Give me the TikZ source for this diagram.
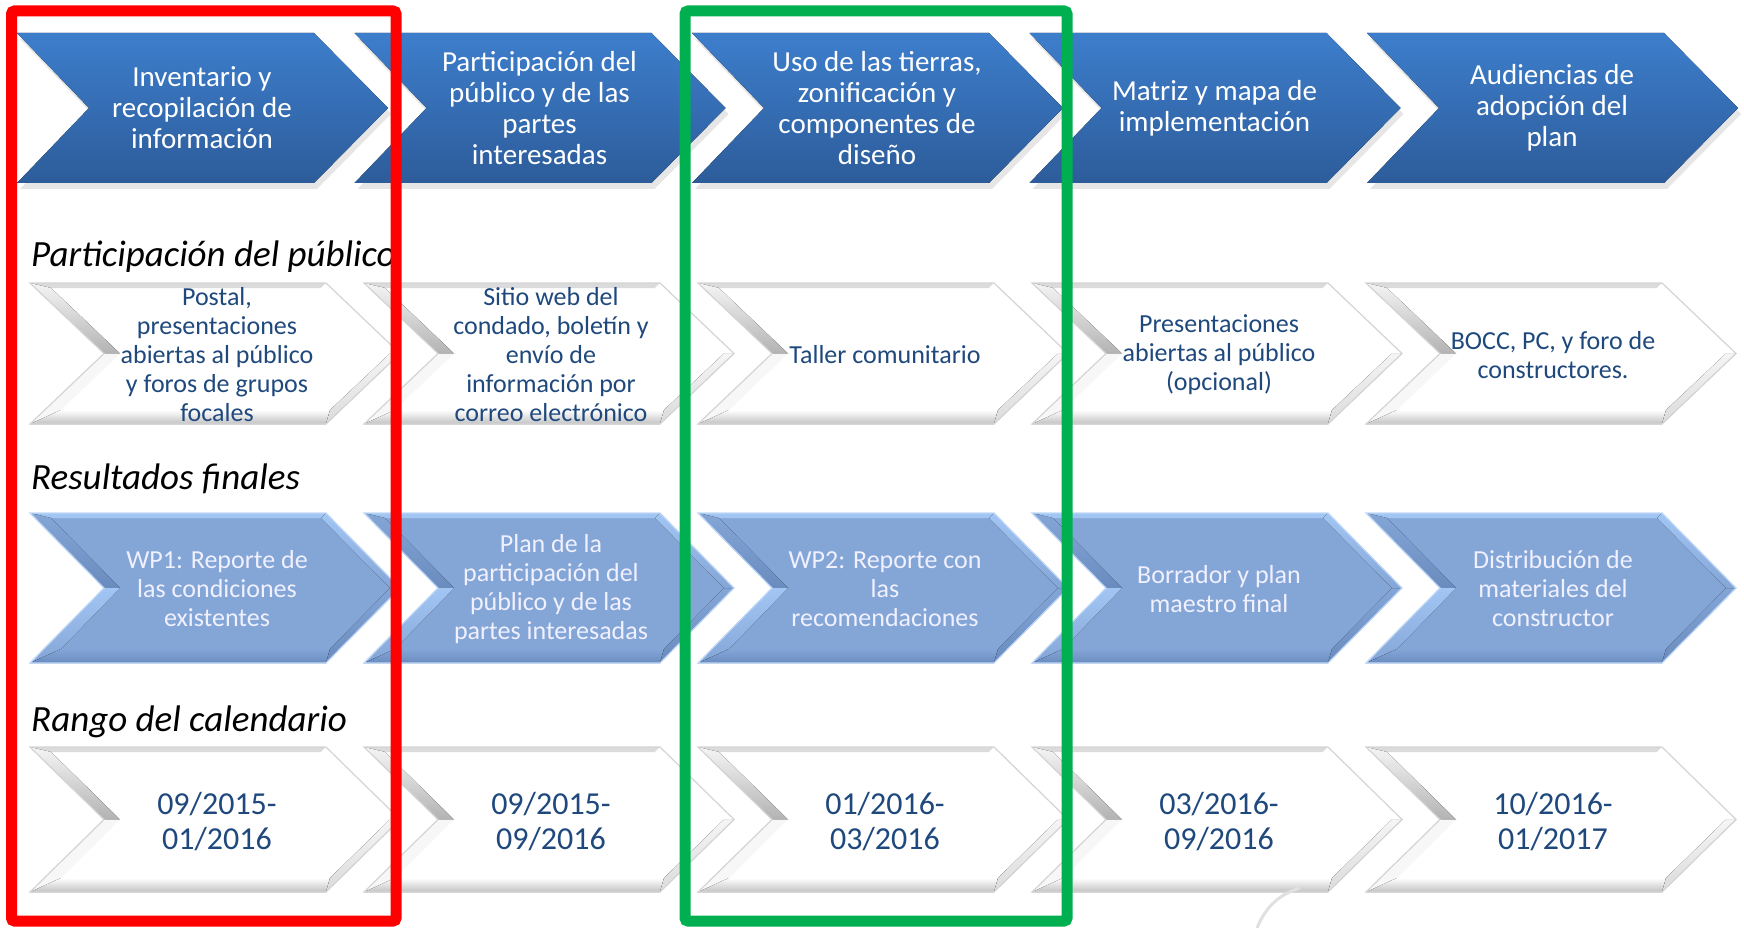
\documentclass[tikz,border=0pt]{standalone}
\usepackage{fontspec}
\setmainfont{Carlito}
\usetikzlibrary{shadows}

\definecolor{phasetop}{HTML}{3D7ECC}
\definecolor{phasebot}{HTML}{2D5C9A}
\definecolor{navytext}{HTML}{1F497D}
\definecolor{boxgreen}{HTML}{00B050}
\definecolor{lbmid}{HTML}{84A6D7}
\definecolor{lblight}{HTML}{A2C6F4}
\definecolor{lbdark}{HTML}{6A8BBE}

\tikzset{
  phasetext/.style={text=white, align=center, inner sep=0pt, font=\fontsize{29}{31}\selectfont},
  rowtext/.style={text=navytext, align=center, inner sep=0pt, font=\fontsize{26}{29}\selectfont},
  outtext/.style={text=white!94!blue, align=center, inner sep=0pt, font=\fontsize{26}{29}\selectfont},
  datetext/.style={text=navytext, align=center, inner sep=0pt, font=\fontsize{32}{35}\selectfont},
  heading/.style={anchor=base west, inner sep=0pt, font=\fontsize{37}{40}\selectfont\itshape},
  % bevel faces, white chevrons
  wht-mid/.style={fill=white},
  wht-top/.style={fill=black!14},
  wht-ul/.style={top color=black!4, bottom color=black!30},
  wht-ll/.style={fill=black!3},
  wht-bot/.style={top color=white, bottom color=black!24},
  wht-lr/.style={top color=black!4, bottom color=black!14},
  wht-ur/.style={fill=white},
  wht-edge/.style={draw=black!17, line width=1.2},
  % bevel faces, light blue chevrons
  blu-mid/.style={fill=lbmid},
  blu-top/.style={fill=lblight},
  blu-ul/.style={top color=lbmid, bottom color=lbdark},
  blu-ll/.style={top color=lblight, bottom color=lbmid},
  blu-bot/.style={top color=lbmid, bottom color=lbdark},
  blu-lr/.style={top color=lbmid, bottom color=lbdark},
  blu-ur/.style={top color=lblight, bottom color=lbmid},
  blu-edge/.style={draw=lblight!70!white, line width=1.2},
  frame/.style={line width=11, rounded corners=3}
}

\begin{document}
\begin{tikzpicture}[x=1pt,y=-1pt]
  \useasboundingbox (0,0) rectangle (1744,928);

  % Phase chevrons
  \foreach \i/\txt in {0/{Inventario y\\recopilación de\\información},
                       1/{Participación del\\público y de las\\partes\\interesadas},
                       2/{Uso de las tierras,\\zonificación y\\componentes de\\diseño},
                       3/{Matriz y mapa de\\implementación},
                       4/{Audiencias de\\adopción del\\plan}} {
    \pgfmathsetmacro{\xa}{17+337.5*\i}
    \fill[top color=phasetop, bottom color=phasebot,
          drop shadow={shadow xshift=3pt, shadow yshift=-6pt, opacity=0.2}]
      (\xa,33) -- (\xa+297,33) -- (\xa+371,108) -- (\xa+297,183) -- (\xa,183) -- (\xa+72,108) -- cycle;
    \node[phasetext] (phase\i) at (\xa+185,108) {\txt};
  }

  % Beveled chevrons of the three lower rows
  \foreach \ya/\yb/\sch in {283/424/wht, 513/663/blu, 747/892/wht} {
    \pgfmathsetmacro{\ym}{(\ya+\yb)/2}
    \foreach \i in {0,...,4} {
      \pgfmathsetmacro{\xa}{30+334*\i}
      \pgfmathsetmacro{\xn}{\xa+74}
      \pgfmathsetmacro{\xc}{\xa+296}
      \pgfmathsetmacro{\xp}{\xc+74}
      \coordinate (A) at (\xa,\ya);
      \coordinate (B) at (\xc,\ya);
      \coordinate (C) at (\xp,\ym);
      \coordinate (D) at (\xc,\yb);
      \coordinate (E) at (\xa,\yb);
      \coordinate (F) at (\xn,\ym);
      \coordinate (Ai) at (\xa+21,\ya+5);
      \coordinate (Bi) at (\xc-5,\ya+5);
      \coordinate (Ci) at (\xp-10,\ym);
      \coordinate (Di) at (\xc+4,\yb-14);
      \coordinate (Ei) at (\xa+31,\yb-14);
      \coordinate (Fi) at (\xn+16,\ym);
      \fill[\sch-mid] (Ai) -- (Bi) -- (Ci) -- (Di) -- (Ei) -- (Fi) -- cycle;
      \fill[\sch-top] (A) -- (B) -- (Bi) -- (Ai) -- cycle;
      \fill[\sch-ul] (A) -- (F) -- (Fi) -- (Ai) -- cycle;
      \fill[\sch-ll] (F) -- (E) -- (Ei) -- (Fi) -- cycle;
      \fill[\sch-bot] (E) -- (D) -- (Di) -- (Ei) -- cycle;
      \fill[\sch-lr] (D) -- (C) -- (Ci) -- (Di) -- cycle;
      \fill[\sch-ur] (C) -- (B) -- (Bi) -- (Ci) -- cycle;
      \draw[\sch-edge] (A) -- (B) -- (C) -- (D) -- (E) -- (F) -- cycle;
    }
  }

  % Row headings
  \node[heading] (hpart) at (31,266) {Participación del público};
  \node[heading] (hres) at (31,489) {Resultados finales};
  \node[heading] (hcal) at (31,731) {Rango del calendario};

  % Public participation
  \foreach \i/\txt in {0/{Postal,\\presentaciones\\abiertas al público\\y foros de grupos\\focales},
                       1/{Sitio web del\\condado, boletín y\\envío de\\información por\\correo electrónico},
                       2/{Taller comunitario},
                       3/{Presentaciones\\abiertas al público\\(opcional)},
                       4/{BOCC, PC, y foro de\\constructores.}} {
    \node[rowtext] (part\i) at (217+334*\i,355) {\txt};
  }

  % Final results
  \foreach \i/\txt in {0/{WP1: Reporte de\\las condiciones\\existentes},
                       1/{Plan de la\\participación del\\público y de las\\partes interesadas},
                       2/{WP2: Reporte con\\las\\recomendaciones},
                       3/{Borrador y plan\\maestro final},
                       4/{Distribución de\\materiales del\\constructor}} {
    \node[outtext] (res\i) at (217+334*\i,589) {\txt};
  }

  % Calendar range
  \foreach \i/\txt in {0/{09/2015-\\01/2016},
                       1/{09/2015-\\09/2016},
                       2/{01/2016-\\03/2016},
                       3/{03/2016-\\09/2016},
                       4/{10/2016-\\01/2017}} {
    \node[datetext] (cal\i) at (217+334*\i,822) {\txt};
  }

  % Faint swoosh at the bottom
  \draw[black!12, line width=3] (1257,928) .. controls (1266,906) and (1280,894) .. (1300,888);

  % Highlight frames
  \draw[frame, red] (11.5,11) rectangle (396,921);
  \draw[frame, boxgreen] (685,11) rectangle (1067,921);
\end{tikzpicture}
\end{document}
